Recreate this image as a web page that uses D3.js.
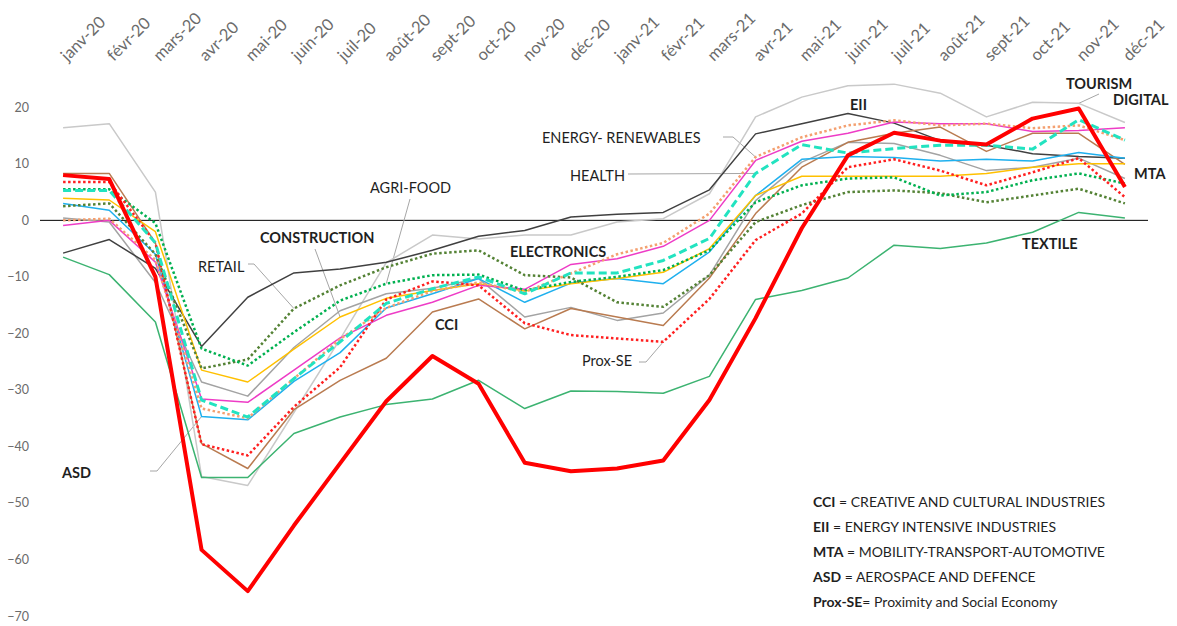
<!DOCTYPE html>
<html>
<head>
<meta charset="utf-8">
<script src="https://cdn.jsdelivr.net/npm/d3@7"></script>
<style>
  body { margin: 0; background: #fff; }
  svg { display: block; font-family: Lato, "Open Sans", sans-serif; }
  .tick text { fill: #6b6b6b; }
</style>
</head>
<body>
<div id="chart"></div>
<script>
"use strict";

var months = ["janv-20", "févr-20", "mars-20", "avr-20", "mai-20", "juin-20", "juil-20", "août-20",
  "sept-20", "oct-20", "nov-20", "déc-20", "janv-21", "févr-21", "mars-21", "avr-21", "mai-21",
  "juin-21", "juil-21", "août-21", "sept-21", "oct-21", "nov-21", "déc-21"];

var yTicks = [20, 10, 0, -10, -20, -30, -40, -50, -60, -70];

// values, one per month
var tourism = [16.4, 17.1, 5, -45.3, -46.9, -34, -21, -7.5, -2.6, -3.3, -2.6, -2.6, -0.3, 0.3, 4.7, 18.3, 21.8, 23.8, 24.1, 22.5, 18.3, 20.9, 20.7, 17.3];
var eii = [-5.8, -3.4, -8.5, -22.3, -13.6, -9.3, -8.6, -7.4, -5.3, -2.8, -1.8, 0.6, 1.1, 1.4, 5.4, 15.3, 17.1, 18.9, 17.2, 14.1, 13.3, 11.8, 11.3, 11];
var electronics = [0.4, -0.3, -11, -28.6, -31.1, -22.5, -16, -13, -12, -10.3, -17.1, -15.4, -17.7, -16.4, -9.7, 3.5, 10.3, 13.8, 13.6, 11.5, 8.8, 9.4, 11, 7.4];
var cci = [8.3, 8.3, -4, -39.5, -43.9, -33.5, -28.3, -24.4, -16.2, -13.9, -19.2, -15.6, -17.1, -18.6, -10.2, 1.2, 9.4, 13.8, 15.4, 16.5, 12.2, 15.4, 15.4, 9.9];
var asd = [3, 1.8, -6, -34.7, -35.3, -28.5, -23.4, -15.5, -13, -10.3, -14.5, -11.1, -10.3, -11.2, -5.6, 4.4, 10.8, 11.3, 11.1, 10.5, 10.8, 10.5, 12, 11];
var digital = [-0.9, 0, -7.4, -31.6, -32.2, -26.5, -20.8, -16.8, -14.5, -11.5, -12.2, -7.8, -6.8, -4.6, 0, 10.6, 14, 15.4, 17.4, 17.1, 17.1, 15.7, 15.9, 16.4];
var construction = [3.9, 3.6, -2, -26.5, -28.6, -22.8, -17.1, -13.8, -12.4, -11.2, -12.5, -11.2, -10.3, -9.2, -5, 4.4, 7.8, 7.8, 7.8, 7.8, 8.3, 9.4, 10, 10];
var textile = [-6.5, -9.6, -18, -45.5, -45.5, -37.7, -34.8, -32.6, -31.6, -28.3, -33.3, -30.2, -30.3, -30.6, -27.6, -14, -12.4, -10.2, -4.4, -5, -4, -2.1, 1.4, 0.4];
var retail = [2.5, 3, -6, -26.2, -24.6, -15.6, -11.5, -8.3, -5.9, -5.3, -9.7, -10.1, -14.5, -15.3, -9.7, -0.3, 2.7, 5, 5.3, 4.8, 3.2, 4.4, 5.6, 3];
var agriFood = [5.5, 5.5, -0.5, -22.7, -25.7, -19.8, -14.2, -11.2, -9.7, -9.6, -12.4, -10.9, -10, -8.8, -5.3, 3.2, 6.2, 7.4, 7.6, 4.4, 5, 7.1, 8.3, 6.5];
var energy = [0, 0.3, -7, -33.3, -35, -28, -21, -15.5, -12.5, -11, -12.7, -9.4, -6, -4, 1.2, 11.2, 14.7, 16.8, 17.7, 16.8, 17.1, 16.3, 16.8, 14.2];
var proxSE = [6.8, 6.8, -4, -39.6, -41.6, -33, -26, -14, -10.8, -11.5, -18.2, -20.3, -20.9, -21.5, -13.9, -3.5, 1.2, 9.4, 10.8, 8.8, 6.2, 8.5, 11, 4.1];
var health = [5.3, 5.3, -4, -31.8, -34.8, -28, -21.5, -14.7, -12.1, -10, -13, -9.3, -9.3, -7.1, -3.2, 8.3, 13.4, 11.9, 12.7, 13.3, 13.3, 12.6, 17.8, 14.2];
var mta = [8, 7.3, -10, -58.3, -65.6, -54, -43, -32, -24, -28.9, -42.9, -44.4, -43.9, -42.5, -31.8, -17.3, -1.4, 11.5, 15.5, 14.1, 13.4, 18, 19.8, 5.9];

var legendLines = [
  ["CCI", " = CREATIVE AND CULTURAL INDUSTRIES"],
  ["EII", " = ENERGY INTENSIVE INDUSTRIES"],
  ["MTA", " = MOBILITY-TRANSPORT-AUTOMOTIVE"],
  ["ASD", " = AEROSPACE AND DEFENCE"],
  ["Prox-SE", "= Proximity and Social Economy"]
];

// drawing order: first drawn ends up underneath
var series = [
  {name: "TOURISM", values: tourism, color: "#c9c9c9", width: 1.5},
  {name: "ELECTRONICS", values: electronics, color: "#a3a3a3", width: 1.5},
  {name: "EII", values: eii, color: "#404040", width: 1.5},
  {name: "CCI", values: cci, color: "#b97b50", width: 1.5},
  {name: "TEXTILE", values: textile, color: "#3cb371", width: 1.5},
  {name: "ASD", values: asd, color: "#1fb0ee", width: 1.5},
  {name: "CONSTRUCTION", values: construction, color: "#ffc000", width: 1.5},
  {name: "DIGITAL", values: digital, color: "#ee3cc6", width: 1.5},
  {name: "RETAIL", values: retail, color: "#548235", width: 2.5, dash: "2.5 2.5"},
  {name: "AGRI-FOOD", values: agriFood, color: "#00b050", width: 2.5, dash: "2.5 2.5"},
  {name: "ENERGY", values: energy, color: "#f4a070", width: 2.5, dash: "2.5 2.5"},
  {name: "Prox-SE", values: proxSE, color: "#ff2020", width: 2.5, dash: "2.5 2.5"},
  {name: "HEALTH", values: health, color: "#22e3c0", width: 3, dash: "8 4"},
  {name: "MTA", values: mta, color: "#ff0000", width: 4}
];

// label text, position, and optional leader to a point of a series
var notes = [
  {text: "AGRI-FOOD", x: 370, y: 193, bold: false, leader: [[410, 199]], to: [agriFood, 7]},
  {text: "CONSTRUCTION", x: 260, y: 243, bold: true, leader: [[315, 249]], to: [construction, 6]},
  {text: "RETAIL", x: 198, y: 272, bold: false, leader: [[248, 264], [254, 264]], to: [retail, 5]},
  {text: "ENERGY- RENEWABLES", x: 542, y: 143, bold: false, leader: [[723, 137], [733, 137]], to: [energy, 15]},
  {text: "HEALTH", x: 570, y: 181, bold: false, leader: [[628, 174]], to: [health, 15]},
  {text: "EII", x: 850, y: 110, bold: true},
  {text: "TOURISM", x: 1066, y: 89, bold: true, leader: [[1099, 94]], to: [tourism, 22]},
  {text: "DIGITAL", x: 1113, y: 105, bold: true},
  {text: "MTA", x: 1134, y: 179, bold: true},
  {text: "ELECTRONICS", x: 510, y: 257, bold: true},
  {text: "TEXTILE", x: 1022, y: 249, bold: true},
  {text: "CCI", x: 435, y: 330, bold: true},
  {text: "Prox-SE", x: 582, y: 366, bold: false, leader: [[639, 362], [646, 362]], to: [proxSE, 13]},
  {text: "ASD", x: 62, y: 478, bold: true, leader: [[150, 471], [157, 471]], to: [asd, 3]}
];

var width = 1177;
var height = 626;

var svg = d3.select("#chart").append("svg")
  .attr("width", width)
  .attr("height", height);

var x = d3.scalePoint().domain(months).range([40, 1148]).padding(0.5);
var y = d3.scaleLinear().domain([-70, 20]).range([616, 107.3]);

// month labels along the top, slanted
var xAxis = svg.append("g")
  .attr("transform", "translate(0,62)")
  .call(d3.axisTop(x).tickSize(0));
xAxis.select(".domain").remove();
xAxis.selectAll("text")
  .attr("x", 0).attr("y", 0).attr("dy", 0)
  .attr("transform", "translate(4,0) rotate(-45)")
  .style("text-anchor", "start")
  .style("font-size", "16.5px")
  .style("font-family", "Lato, sans-serif");

var yAxis = svg.append("g")
  .attr("transform", "translate(32,0)")
  .call(d3.axisLeft(y).tickValues(yTicks).tickSize(0).tickPadding(3));
yAxis.select(".domain").remove();
yAxis.selectAll("text")
  .style("font-size", "12.5px")
  .style("font-family", "Lato, sans-serif");

svg.append("line")
  .attr("x1", 40).attr("x2", 1148)
  .attr("y1", y(0)).attr("y2", y(0))
  .attr("stroke", "#000").attr("stroke-width", 1);

var line = d3.line()
  .x(function (d, i) { return x(months[i]); })
  .y(function (d) { return y(d); });

// leaders go under the series
var leaderG = svg.append("g");
notes.forEach(function (n) {
  if (!n.leader) return;
  var pts = n.leader.slice();
  pts.push([x(months[n.to[1]]), y(n.to[0][n.to[1]])]);
  leaderG.append("path")
    .attr("d", d3.line()(pts))
    .attr("fill", "none")
    .attr("stroke", "#a6a6a6")
    .attr("stroke-width", 1);
});

svg.append("g").selectAll("path")
  .data(series)
  .join("path")
  .attr("d", function (s) { return line(s.values); })
  .attr("fill", "none")
  .attr("stroke", function (s) { return s.color; })
  .attr("stroke-width", function (s) { return s.width; })
  .attr("stroke-dasharray", function (s) { return s.dash || null; })
  .attr("stroke-linejoin", "round");

svg.append("g").selectAll("text")
  .data(notes)
  .join("text")
  .attr("x", function (n) { return n.x; })
  .attr("y", function (n) { return n.y; })
  .attr("fill", "#1f1f1f")
  .style("font-size", "14.5px")
  .style("font-weight", function (n) { return n.bold ? "bold" : "normal"; })
  .text(function (n) { return n.text; });

var legend = svg.append("g").selectAll("text")
  .data(legendLines)
  .join("text")
  .attr("x", 813)
  .attr("y", function (d, i) { return 507 + i * 25; })
  .attr("fill", "#1f1f1f")
  .style("font-size", "14px");
legend.append("tspan").style("font-weight", "bold").text(function (d) { return d[0]; });
legend.append("tspan").text(function (d) { return d[1]; });
</script>
</body>
</html>
